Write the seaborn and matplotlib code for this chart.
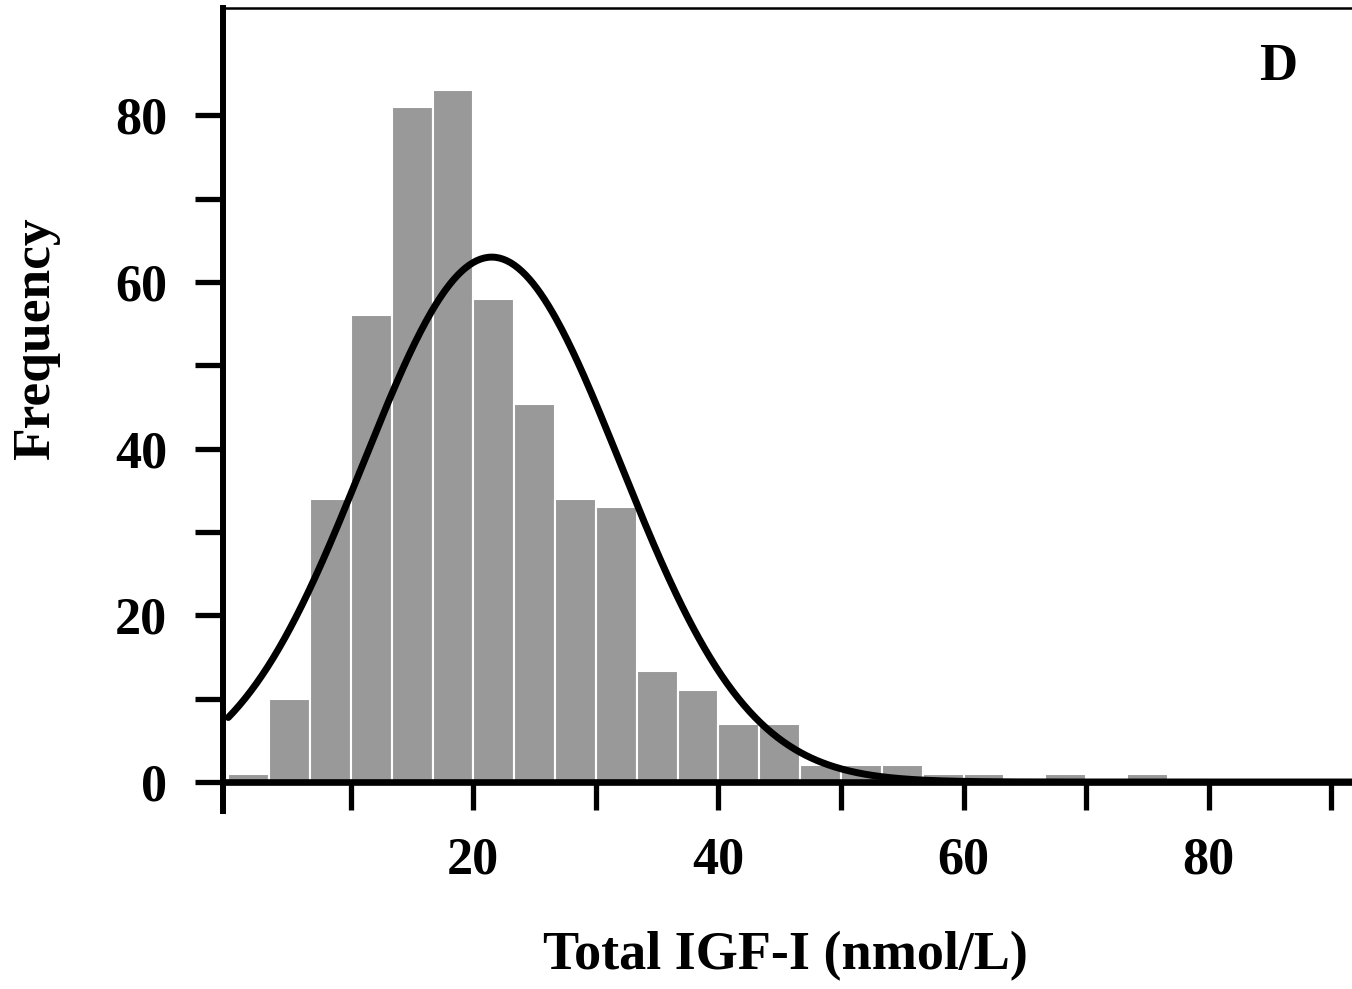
import numpy as np
import pandas as pd
import matplotlib
matplotlib.use("Agg")
import matplotlib.pyplot as plt
import seaborn as sns

# ---- data ----
bin_width = 10 / 3
bin_start = 0.0
counts = [1, 10, 34, 56, 81, 83, 58, 45.4, 34, 33, 13.3, 11, 7, 7,
          2, 2, 2, 1, 1, 0, 1, 0, 1]
fit_mean = 21.5      # fitted normal curve: centre
fit_sd = 10.5        # fitted normal curve: spread
fit_peak = 63.0      # fitted normal curve: height at the centre
x_ticklabels = [20, 40, 60, 80]
y_ticklabels = [0, 20, 40, 60, 80]
x_label = "Total IGF-I (nmol/L)"
y_label = "Frequency"
panel_label = "D"

edges = bin_start + bin_width * np.arange(len(counts) + 1)
centers = (edges[:-1] + edges[1:]) / 2
df = pd.DataFrame({"x": centers, "n": counts})

sns.set_style("ticks")
plt.rcParams["font.family"] = ["Liberation Serif", "DejaVu Serif"]
plt.rcParams["font.weight"] = "bold"
plt.rcParams["text.color"] = "black"
plt.rcParams["axes.labelcolor"] = "black"
plt.rcParams["xtick.color"] = "black"
plt.rcParams["ytick.color"] = "black"
plt.rcParams["axes.edgecolor"] = "black"

W, H = 1352, 989
fig = plt.figure(figsize=(W / 100, H / 100), dpi=100)
left_px, right_px, bottom_px, top_px = 223, 1352, 782, 8
ax = fig.add_axes([left_px / W, (H - bottom_px) / H,
                   (right_px - left_px) / W, (bottom_px - top_px) / H])

sns.histplot(data=df, x="x", weights="n", binwidth=bin_width,
             binrange=(float(edges[0]), float(edges[-1])), color="#999999",
             edgecolor="white", linewidth=1.5, alpha=1, ax=ax, zorder=2)

xs = np.linspace(0, 92, 600)
curve = pd.DataFrame({"x": xs,
                      "y": fit_peak * np.exp(-(xs - fit_mean) ** 2 / (2 * fit_sd ** 2))})
sns.lineplot(data=curve, x="x", y="y", color="black", linewidth=5.0, ax=ax, zorder=3)

ax.set_xlim(-0.43, 91.7)
ax.set_ylim(0, 92.9)

ax.set_xticks(x_ticklabels)
ax.set_xticklabels([str(v) for v in x_ticklabels])
ax.set_xticks([10, 30, 50, 70, 90], minor=True)
ax.set_yticks(y_ticklabels)
ax.set_yticklabels([str(v) for v in y_ticklabels])
ax.set_yticks([10, 30, 50, 70], minor=True)

for which in ("major", "minor"):
    ax.tick_params(axis="x", which=which, direction="out", length=20, width=3.8,
                   pad=19, labelsize=37.5, color="black", labelcolor="black")
    ax.tick_params(axis="y", which=which, direction="out", length=20, width=3.8,
                   pad=20, labelsize=37.5, color="black", labelcolor="black")
for lbl in ax.get_xticklabels() + ax.get_yticklabels():
    lbl.set_fontweight("bold")

ax.spines["right"].set_visible(False)
ax.spines["left"].set_linewidth(4.3)
ax.spines["bottom"].set_linewidth(4.8)
ax.spines["top"].set_linewidth(1.8)
ax.spines["left"].set_bounds(-3.5, 92.9)
for s in ax.spines.values():
    s.set_zorder(4)
    s.set_color("black")

ax.set_xlabel(x_label, fontsize=39, fontweight="bold", color="black")
ax.set_ylabel(y_label, fontsize=38.5, fontweight="bold", color="black")
ax.xaxis.set_label_coords((785 - left_px) / (right_px - left_px), (bottom_px - 931) / (bottom_px - top_px))
ax.yaxis.set_label_coords((60 - left_px) / (right_px - left_px), (bottom_px - 339) / (bottom_px - top_px))

ax.text((1278 - left_px) / (right_px - left_px), (bottom_px - 67) / (bottom_px - top_px),
        panel_label, transform=ax.transAxes, ha="center", va="center",
        fontsize=38, fontweight="bold", color="black")

ax.grid(False)
fig.savefig("out.png", dpi=100, facecolor="white")
